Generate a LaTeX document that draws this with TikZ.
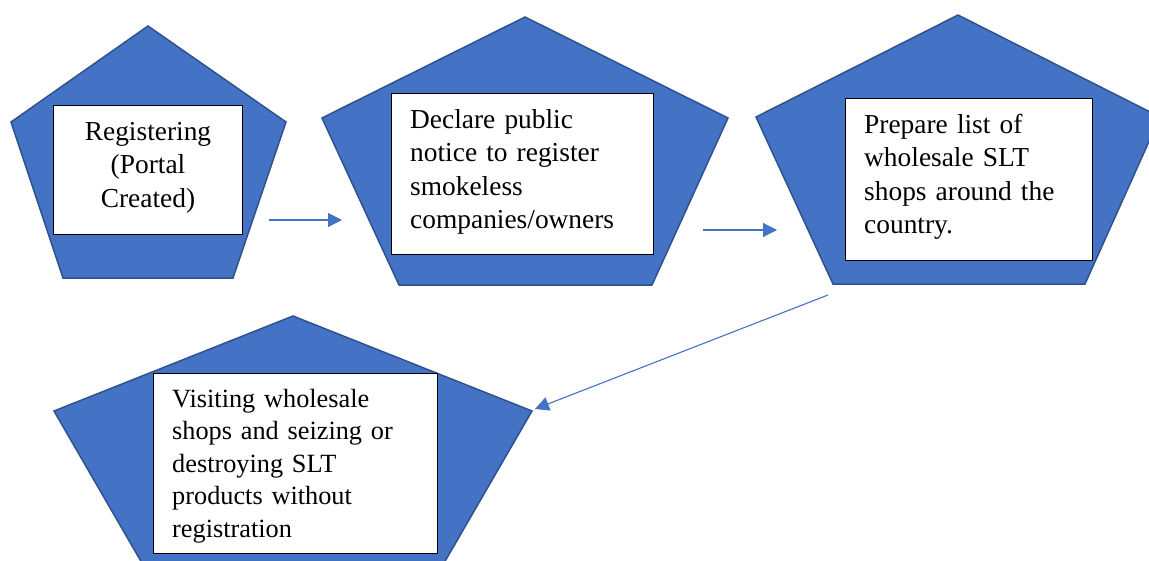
\documentclass[tikz,border=0pt]{standalone}
\usepackage{fontspec}
\setmainfont{Liberation Serif}
\usetikzlibrary{arrows.meta}
\definecolor{pfill}{HTML}{4472C4}
\definecolor{pline}{HTML}{2F528F}
\begin{document}
\begin{tikzpicture}[x=1pt,y=-1pt,
  pent/.style={fill=pfill,draw=pline,line width=1.5pt,line join=miter},
  box/.style={draw=black,line width=1pt,fill=white,inner sep=0pt,anchor=north west},
  txt/.style={font=\fontsize{27.4}{33.6}\selectfont,inner sep=0pt,text width=#1},
  flow/.style={draw=pfill,line width=1.1pt,-{Triangle[length=14pt,width=14pt]}}]
\useasboundingbox (0,0) rectangle (1149,560);
\begin{scope}
\clip (0,0) rectangle (1149,560);
% pentagons
\draw[pent] (148,26) -- (286,122) -- (233,278) -- (63,278) -- (11,122) -- cycle;
\draw[pent] (525,17) -- (728,118) -- (652,285) -- (399,285) -- (322,118) -- cycle;
\draw[pent] (958,15) -- (1160,117) -- (1085,284) -- (833,284) -- (756,117) -- cycle;
\draw[pent] (293,316) -- (532,411) -- (440,570) -- (146,570) -- (54,411) -- cycle;
% boxes
\node[box,minimum width=189pt,minimum height=129pt] (b1) at (53,105) {};
\node[box,minimum width=262pt,minimum height=161pt] (b2) at (391,93) {};
\node[box,minimum width=247pt,minimum height=162pt] (b3) at (845,98) {};
\node[box,minimum width=284pt,minimum height=180pt] (b4) at (153,373) {};
\end{scope}
% texts
\node[txt=180pt,align=center,anchor=base] (t1) at (148,140) {Registering\\(Portal\\Created)};
\node[txt=240pt,align=left,anchor=base west] (t2) at (410,128) {Declare public\\notice to register\\smokeless\\companies/owners};
\node[txt=220pt,align=left,anchor=base west] (t3) at (864,133) {Prepare list of\\wholesale SLT\\shops around the\\country.};
\node[txt=260pt,align=left,anchor=base west,font=\fontsize{26.3}{32.6}\selectfont] (t4) at (172,407) {Visiting wholesale\\shops and seizing or\\destroying SLT\\products without\\registration};
% connectors
\coordinate (a1s) at (269,220);
\coordinate (a1e) at (342,220);
\coordinate (a2s) at (703,230);
\coordinate (a2e) at (777,230);
\coordinate (a3s) at (828,295);
\coordinate (a3e) at (535,409);
\draw[flow] (a1s) -- (a1e);
\draw[flow] (a2s) -- (a2e);
\draw[flow] (a3s) -- (a3e);
\end{tikzpicture}
\end{document}
